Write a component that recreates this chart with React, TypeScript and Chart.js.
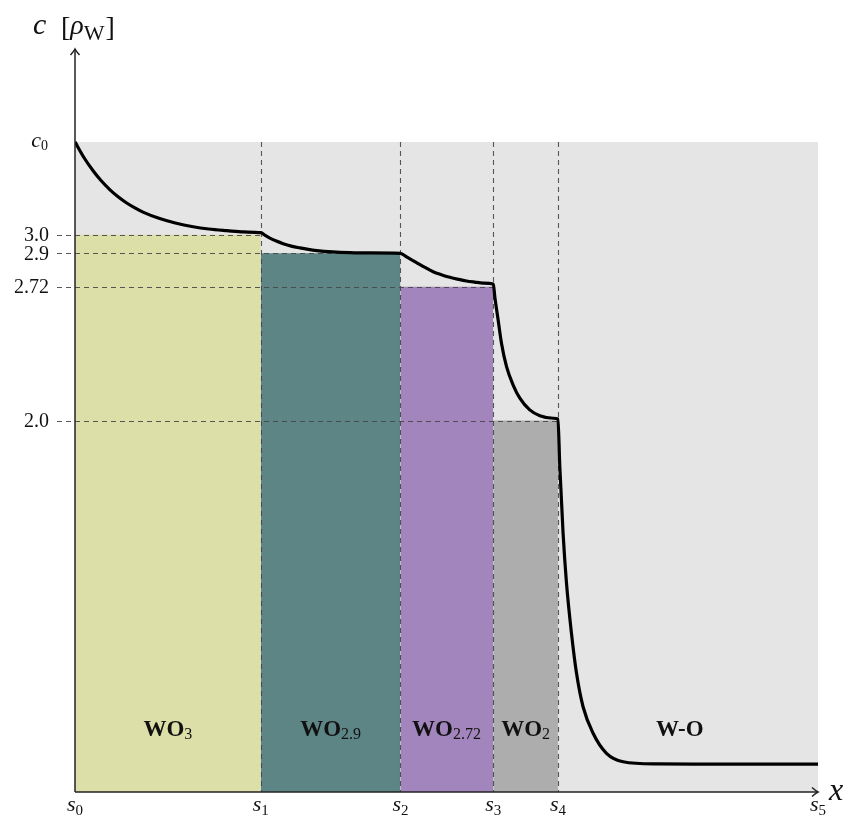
import React, { useEffect, useRef } from "react";
import { Chart, registerables } from "chart.js";
Chart.register(...registerables);

// Interface positions s0..s5 (arbitrary length units)
const boundaries = [0, 25, 43.8, 56.3, 65, 100];
const boundarySubs = ["0", "1", "2", "3", "4", "5"];
// Initial concentration c0 and plateau levels
const c0Value = 3.5;
const phaseLevels = [3.0, 2.9, 2.72, 2.0];
const levelLabels = ["3.0", "2.9", "2.72", "2.0"];
// Phase names
const phaseNames = ["WO", "WO", "WO", "WO", "W-O"];
const phaseSubs = ["3", "2.9", "2.72", "2", ""];
const phaseLabelX = [12.5, 34.4, 50, 60.65, 81.4];
// Concentration profile
const curveX = [0, 1.2, 2.46, 3.5, 4.71, 5.8, 6.96, 8, 9.15, 11.4, 13.5, 15.9, 18, 20.45, 22.7, 25, 25.6, 26.23, 27.1, 28.02, 29.1, 30.27, 31.4, 32.52, 34.71, 37, 39.24, 43.8, 44.63, 45.97, 47.1, 48.2, 49.3, 50.45, 51.6, 52.69, 53.8, 54.93, 56.3, 56.5, 56.95, 57.4, 58.08, 58.97, 59.87, 61.2, 62.56, 64.35, 65, 65.25, 65.69, 66.15, 66.82, 67.5, 68.38, 69.73, 71.53, 73.77, 78.26, 85, 100];
const curveY = [3.5, 3.416, 3.343, 3.292, 3.242, 3.205, 3.171, 3.146, 3.122, 3.087, 3.063, 3.043, 3.031, 3.022, 3.015, 3.011, 2.996, 2.982, 2.966, 2.952, 2.939, 2.929, 2.921, 2.915, 2.908, 2.904, 2.902, 2.9, 2.881, 2.85, 2.824, 2.801, 2.785, 2.771, 2.76, 2.751, 2.745, 2.74, 2.735, 2.667, 2.541, 2.416, 2.29, 2.191, 2.12, 2.057, 2.026, 2.012, 2.008, 1.751, 1.393, 1.124, 0.854, 0.639, 0.459, 0.316, 0.208, 0.163, 0.151, 0.15, 0.15];
const yMax = 4.0;

const phaseColors = ["#dcdfa7", "#5e8586", "#a385bd", "#adadad", "#e5e5e5"];
const SERIF = "'Liberation Serif', 'DejaVu Serif', serif";

function drawArrow(ctx: CanvasRenderingContext2D, x: number, y: number, dir: "up" | "right") {
  ctx.beginPath();
  if (dir === "up") {
    ctx.moveTo(x - 4.5, y + 6);
    ctx.quadraticCurveTo(x - 1, y + 2, x, y);
    ctx.quadraticCurveTo(x + 1, y + 2, x + 4.5, y + 6);
  } else {
    ctx.moveTo(x - 6, y - 4.5);
    ctx.quadraticCurveTo(x - 2, y - 1, x, y);
    ctx.quadraticCurveTo(x - 2, y + 1, x - 6, y + 4.5);
  }
  ctx.stroke();
}

function subText(
  ctx: CanvasRenderingContext2D,
  main: string,
  mainFont: string,
  sub: string,
  subFont: string,
  cx: number,
  baseline: number,
  subDy: number,
  align: "center" | "left" | "right"
) {
  ctx.font = mainFont;
  const w1 = ctx.measureText(main).width;
  ctx.font = subFont;
  const w2 = sub ? ctx.measureText(sub).width : 0;
  const total = w1 + w2;
  let x = cx;
  if (align === "center") x = cx - total / 2;
  else if (align === "right") x = cx - total;
  ctx.textAlign = "left";
  ctx.textBaseline = "alphabetic";
  ctx.font = mainFont;
  ctx.fillText(main, x, baseline);
  if (sub) {
    ctx.font = subFont;
    ctx.fillText(sub, x + w1, baseline + subDy);
  }
}

const decorPlugin = {
  id: "decor",
  beforeDatasetDraw(chart: any, args: any) {
    if (args.index !== 0) return;
    const { ctx, chartArea } = chart;
    const xs = chart.scales.x;
    const ys = chart.scales.y;
    ctx.save();
    ctx.strokeStyle = "rgba(70,70,70,0.9)";
    ctx.lineWidth = 1.1;
    ctx.setLineDash([5, 4]);
    phaseLevels.forEach((lv, i) => {
      const y = Math.round(ys.getPixelForValue(lv)) + 0.5;
      ctx.beginPath();
      ctx.moveTo(chartArea.left - 18, y);
      ctx.lineTo(xs.getPixelForValue(boundaries[i + 1]), y);
      ctx.stroke();
    });
    for (let i = 1; i < boundaries.length - 1; i++) {
      const x = Math.round(xs.getPixelForValue(boundaries[i])) + 0.5;
      ctx.beginPath();
      ctx.moveTo(x, ys.getPixelForValue(c0Value));
      ctx.lineTo(x, ys.getPixelForValue(0));
      ctx.stroke();
    }
    ctx.restore();
  },
  afterDraw(chart: any) {
    const { ctx, chartArea } = chart;
    const xs = chart.scales.x;
    const ys = chart.scales.y;
    const x0 = xs.getPixelForValue(0);
    const y0 = ys.getPixelForValue(0);
    ctx.save();
    // axes
    ctx.strokeStyle = "#222";
    ctx.lineWidth = 1.5;
    ctx.setLineDash([]);
    ctx.beginPath();
    ctx.moveTo(x0, y0);
    ctx.lineTo(x0, chartArea.top);
    ctx.stroke();
    drawArrow(ctx, x0, chartArea.top, "up");
    ctx.beginPath();
    ctx.moveTo(x0, y0);
    ctx.lineTo(chartArea.right, y0);
    ctx.stroke();
    drawArrow(ctx, chartArea.right, y0, "right");

    ctx.fillStyle = "#111";
    // y tick labels
    ctx.textAlign = "right";
    ctx.textBaseline = "alphabetic";
    ctx.font = `20px ${SERIF}`;
    phaseLevels.forEach((lv, i) => {
      ctx.fillText(levelLabels[i], chartArea.left - 26, ys.getPixelForValue(lv) + 6.5);
    });
    // c0
    subText(ctx, "c", `italic 22px ${SERIF}`, "0", `14px ${SERIF}`, chartArea.left - 27, ys.getPixelForValue(c0Value) + 5, 3, "right");
    // x tick labels
    boundaries.forEach((b, i) => {
      subText(ctx, "s", `italic 22px ${SERIF}`, boundarySubs[i], `15px ${SERIF}`, xs.getPixelForValue(b), y0 + 19, 4, "center");
    });
    // axis titles
    ctx.textAlign = "left";
    ctx.font = `italic 32px ${SERIF}`;
    ctx.fillText("x", chartArea.right + 11, y0 + 8);
    let tx = 33;
    const ty = 34;
    ctx.font = `italic 30px ${SERIF}`;
    ctx.fillText("c", tx, ty);
    tx = 61;
    ctx.font = `28px ${SERIF}`;
    ctx.fillText("[", tx, ty + 2);
    tx += ctx.measureText("[").width;
    ctx.font = `italic 28px ${SERIF}`;
    ctx.fillText("\u03C1", tx, ty);
    tx += ctx.measureText("\u03C1").width;
    ctx.font = `22px ${SERIF}`;
    ctx.fillText("W", tx, ty + 6);
    tx += ctx.measureText("W").width + 1;
    ctx.font = `28px ${SERIF}`;
    ctx.fillText("]", tx, ty + 2);

    // phase labels
    phaseNames.forEach((n, i) => {
      subText(ctx, n, `bold 23px ${SERIF}`, phaseSubs[i], `16px ${SERIF}`, xs.getPixelForValue(phaseLabelX[i]), 736, 3, "center");
    });
    ctx.restore();
  },
};

export default function App() {
  const canvasRef = useRef<HTMLCanvasElement | null>(null);
  useEffect(() => {
    if (!canvasRef.current) return;
    const curveData = curveX.map((x, i) => ({ x, y: curveY[i] }));
    const rectSets = phaseLevels.map((lv, i) => ({
      label: `phase${i}`,
      data: [
        { x: boundaries[i], y: lv },
        { x: boundaries[i + 1], y: lv },
      ],
      borderColor: "transparent",
      borderWidth: 0,
      backgroundColor: phaseColors[i],
      fill: "origin",
      pointRadius: 0,
      order: 1,
    }));
    const chart = new Chart(canvasRef.current, {
      type: "line",
      data: {
        datasets: [
          {
            label: "c",
            data: curveData,
            borderColor: "#000",
            borderWidth: 3.2,
            pointRadius: 0,
            fill: false,
            cubicInterpolationMode: "monotone",
            borderJoinStyle: "round",
            order: 0,
          } as any,
          ...(rectSets as any[]),
          {
            label: "bg",
            data: [
              { x: boundaries[0], y: c0Value },
              { x: boundaries[boundaries.length - 1], y: c0Value },
            ],
            borderColor: "transparent",
            borderWidth: 0,
            backgroundColor: phaseColors[4],
            fill: "origin",
            pointRadius: 0,
            order: 2,
          } as any,
        ],
      },
      options: {
        responsive: false,
        animation: false,
        devicePixelRatio: 1,
        layout: { padding: { left: 75, right: 27, top: 49, bottom: 24 } },
        scales: {
          x: { type: "linear", min: 0, max: 100, display: false },
          y: { type: "linear", min: 0, max: yMax, display: false },
        },
        plugins: { legend: { display: false }, tooltip: { enabled: false } },
        events: [],
      },
      plugins: [decorPlugin],
    });
    return () => chart.destroy();
  }, []);
  return (
    <div style={{ position: "fixed", left: 0, top: 0, width: 845, height: 816, background: "#fff" }}>
      <canvas ref={canvasRef} width={845} height={816} style={{ display: "block" }} />
    </div>
  );
}
